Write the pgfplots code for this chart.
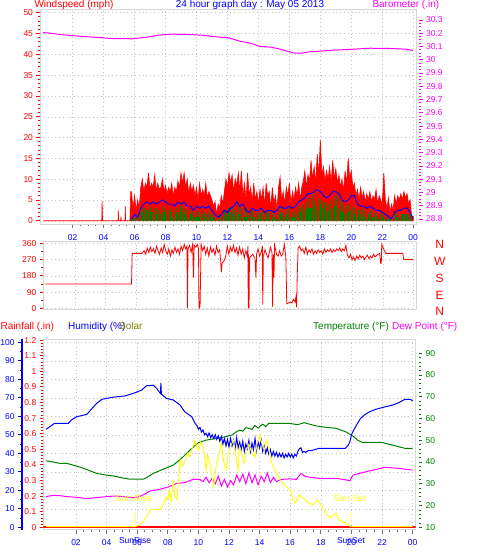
\documentclass[border=0pt]{standalone}
\usepackage{fontspec}
\setmainfont{Liberation Sans}
\usepackage{pgfplots}
\pgfplotsset{compat=1.18}
\definecolor{dkgreen}{RGB}{0,128,0}
\definecolor{olivec}{RGB}{128,128,0}
\definecolor{yel}{RGB}{255,255,0}
\definecolor{mag}{RGB}{255,0,255}
\definecolor{framec}{RGB}{215,215,215}
\definecolor{gridc}{RGB}{195,195,195}
\definecolor{tickc}{RGB}{110,110,110}
\pgfplotsset{
  base/.style={scale only axis, anchor=south west,
    /pgf/number format/assume math mode=true,
    tick label style={font=\fontsize{8.5}{10}\selectfont},
    axis line style={framec, line width=1pt},
    major grid style={gridc, dash pattern=on 0.8pt off 3pt},
    tick align=outside,
    major tick length=3.5pt, minor tick length=2pt,
  },
  hrs/.style={xtick={2,4,...,24}, xticklabels={02,04,06,08,10,12,14,16,18,20,22,00},
    minor x tick num=3, xtick pos=bottom,
    x tick style={tickc, line width=0.8pt},
    xticklabel style={blue, anchor=base, yshift=-12.3pt},
    major x tick style={tickc}, minor x tick style={tickc}},
}
\begin{document}
\begin{tikzpicture}[x=1pt,y=1pt]
\useasboundingbox (0,0) rectangle (478,555);
% ---------------- top panel: wind ----------------
\begin{axis}[base, hrs, at={(40pt,330.5pt)}, width=376pt, height=214.5pt,
  xmin=-0.11, xmax=24.18, ymin=-0.91, ymax=50.65,
  ytick pos=left, ytick={0,5,...,50}, minor y tick num=4,
  y tick style={red, line width=0.8pt}, yticklabel style={red},
  xmajorgrids, ymajorgrids]
\addplot[draw=red, fill=red, line width=0.6pt] coordinates {
(0.1,0)(3.88,0)(3.9,4.7)(3.93,0.5)(3.96,0)(4.93,0)(4.95,2.5)(4.97,0)(5.1,0)(5.12,1)(5.14,0)(5.38,0)(5.4,3.5)(5.42,0)(5.7,0)
(5.75,7)(5.8,7)(5.9,3)(6.0,6)(6.1,2.5)(6.2,5)(6.3,3)(6.4,8)(6.5,10)(6.6,7)(6.7,9)(6.8,8)(6.9,11.5)
(7.0,7.5)(7.1,9)(7.2,8)(7.3,11)(7.4,7)(7.5,9)(7.6,7.5)(7.7,8)(7.8,10)(7.9,7)
(8.0,8.5)(8.1,6.5)(8.2,8)(8.3,7)(8.4,9)(8.5,6)(8.6,8)(8.7,7)(8.8,9.5)(8.9,8)
(9.0,11.5)(9.1,9)(9.2,11.5)(9.3,8)(9.4,10)(9.5,6.5)(9.6,9)(9.7,7)(9.8,8.5)(9.9,6)
(10.0,8)(10.1,5)(10.2,9)(10.3,6)(10.4,7.5)(10.5,6)(10.6,9)(10.7,5.5)(10.8,7)(10.9,6)
(11.0,5)(11.1,3.5)(11.2,4.5)(11.3,1.5)(11.4,4)(11.5,3)(11.6,6)(11.7,4)(11.8,7)(11.9,10)
(12.0,8)(12.1,11.5)(12.2,9)(12.3,11)(12.4,7)(12.5,10)(12.6,8.5)(12.7,11.5)(12.8,7)(12.9,12)
(13.0,6)(13.1,9)(13.2,5)(13.3,11.5)(13.4,6)(13.5,8)(13.6,4.5)(13.7,9)(13.8,5)(13.9,7)
(14.0,4)(14.1,7.5)(14.2,5)(14.3,8)(14.4,3.5)(14.5,9)(14.6,6)(14.7,7)(14.8,3)(14.9,8)
(15.0,4)(15.1,6)(15.2,2.5)(15.3,8)(15.4,10.5)(15.5,5)(15.6,7)(15.7,4)(15.8,8)(15.9,6)
(16.0,9)(16.1,4)(16.2,7)(16.3,5)(16.4,8)(16.5,6)(16.6,9)(16.7,5)(16.8,8)(16.9,9.5)
(17.0,12)(17.1,8)(17.2,11)(17.3,9.5)(17.4,14.5)(17.5,10)(17.6,13)(17.7,9)(17.8,16)(17.9,11)
(18.0,19.5)(18.1,11)(18.2,13)(18.3,9.5)(18.4,12)(18.5,10)(18.6,13)(18.7,9)(18.8,14.5)(18.9,10)
(19.0,12.5)(19.1,9)(19.2,11)(19.3,8)(19.4,10)(19.5,7)(19.6,12)(19.7,9)(19.8,15)(19.9,10)
(20.0,12)(20.1,8)(20.2,9)(20.3,6)(20.4,7.5)(20.5,5)(20.6,8)(20.7,5.5)(20.8,7)(20.9,4.5)
(21.0,6.5)(21.1,5)(21.2,7)(21.3,4.5)(21.4,6)(21.5,5)(21.6,7.5)(21.7,4)(21.8,6)(21.9,5)
(22.0,4)(22.1,11.5)(22.2,5)(22.3,3)(22.4,5.5)(22.5,2)(22.6,4)(22.7,2.5)(22.8,6)(22.9,4)
(23.0,6)(23.1,5)(23.2,6.5)(23.3,5)(23.4,7)(23.5,5.5)(23.6,6.5)(23.7,4)(23.8,5)(23.9,1)(24.0,1)
} \closedcycle;
\addplot[ycomb, dkgreen, line width=1.1pt] coordinates {
(5.8,1)(5.9,0.5)(6.0,1)(6.1,0)(6.2,1.5)(6.3,1)(6.4,2.5)(6.5,3)(6.6,2)(6.7,3)(6.8,2.5)(6.9,3.5)
(7.0,2)(7.1,3)(7.2,2)(7.3,3)(7.4,1.5)(7.5,3)(7.6,2.5)(7.7,1.5)(7.8,3.5)(7.9,2)
(8.0,3)(8.1,1)(8.2,2.5)(8.3,2)(8.4,3)(8.5,1)(8.6,2.5)(8.7,1.5)(8.8,3)(8.9,2)
(9.0,3.5)(9.1,2)(9.2,3)(9.3,1.5)(9.4,2.5)(9.5,1)(9.6,2.5)(9.7,1.5)(9.8,2)(9.9,1)
(10.0,2.5)(10.1,1)(10.2,2)(10.3,1.5)(10.4,2.5)(10.5,1)(10.6,2)(10.7,1.5)(10.8,2.5)(10.9,1)
(11.0,1.5)(11.1,0.5)(11.2,1)(11.3,0)(11.4,0.5)(11.5,0.5)(11.6,1.5)(11.7,1)(11.8,2)(11.9,2.5)
(12.0,1.5)(12.1,3)(12.2,2)(12.3,3)(12.4,1.5)(12.5,2.5)(12.6,2)(12.7,3.5)(12.8,1.5)(12.9,3)
(13.0,1)(13.1,2.5)(13.2,1)(13.3,3)(13.4,1.5)(13.5,2)(13.6,1)(13.7,2.5)(13.8,1)(13.9,2)
(14.0,0.5)(14.1,2)(14.2,1)(14.3,2.5)(14.4,0.5)(14.5,2.5)(14.6,1.5)(14.7,2)(14.8,0.5)(14.9,2)
(15.0,1)(15.1,1.5)(15.2,0.5)(15.3,2)(15.4,3)(15.5,1.5)(15.6,2)(15.7,1)(15.8,2.5)(15.9,1.5)
(16.0,3)(16.1,1)(16.2,2)(16.3,1)(16.4,2.5)(16.5,1.5)(16.6,3.5)(16.7,2)(16.8,3)(16.9,4)
(17.0,2.5)(17.1,4.5)(17.2,3)(17.3,5.5)(17.4,3)(17.5,6.5)(17.6,3.5)(17.7,5)(17.8,2.5)(17.9,5.5)
(18.0,4)(18.1,5)(18.2,3)(18.3,4.5)(18.4,2)(18.5,4)(18.6,2.5)(18.7,5)(18.8,3)(18.9,6)
(19.0,3.5)(19.1,6.5)(19.2,3)(19.3,5)(19.4,2)(19.5,4)(19.6,1.5)(19.7,3.5)(19.8,2)(19.9,4)
(20.0,2.5)(20.1,3.5)(20.2,1.5)(20.3,3)(20.4,1)(20.5,2.5)(20.6,1.5)(20.7,3)(20.8,1)(20.9,2.5)
(21.0,1)(21.1,2)(21.2,1.5)(21.3,2.5)(21.4,1)(21.5,2)(21.6,1)(21.7,1.5)(21.8,0.5)(21.9,1.5)
(22.0,1)(22.1,2)(22.2,0.5)(22.3,1)(22.4,0.5)(22.5,0.5)(22.6,0)(22.7,0.5)(22.8,1.5)(22.9,1)
(23.0,1.5)(23.1,1)(23.2,1.5)(23.3,1.5)(23.4,1.5)(23.5,1.5)(23.6,1.5)(23.7,1)(23.8,1.5)(23.9,0.5)
};
\addplot[blue, line width=1pt] coordinates {
(5.8,0.3)(6.0,1.5)(6.2,0.8)(6.4,3)(6.6,4)(6.8,4.5)(7.0,4)(7.2,4.5)(7.4,4)(7.6,4.5)(7.8,5)
(8.0,4.5)(8.2,4)(8.4,4)(8.6,3.5)(8.8,4.5)(9.0,4)(9.2,4.5)(9.4,3.5)(9.6,3.5)(9.8,2.5)
(10.0,3.5)(10.2,3)(10.4,3.5)(10.6,3)(10.8,3.5)(11.0,2.5)(11.2,1.5)(11.4,0.8)(11.6,1.5)(11.8,2.5)
(12.0,2)(12.2,3)(12.4,3.5)(12.6,4.5)(12.8,3.5)(13.0,4)(13.2,2.5)(13.4,2)(13.6,3)(13.8,2.5)
(14.0,2.5)(14.2,3)(14.4,2)(14.6,2.5)(14.8,2.5)(15.0,2)(15.2,2.5)(15.4,3.5)(15.6,3)(15.8,3)
(16.0,3.5)(16.2,3)(16.4,3.5)(16.6,4.5)(16.8,5)(17.0,5.5)(17.2,6.5)(17.4,6.5)(17.6,7)(17.8,7.5)
(18.0,7)(18.2,6)(18.4,5.5)(18.6,6)(18.8,7)(19.0,7)(19.2,6.5)(19.4,5)(19.6,4.5)(19.8,5)
(20.0,6)(20.2,6)(20.4,4)(20.6,3.5)(20.8,3.5)(21.0,3)(21.2,3.5)(21.4,3)(21.6,2.5)(21.8,2.5)
(22.0,2)(22.2,1.5)(22.4,1)(22.6,0.5)(22.8,2)(23.0,2.5)(23.2,2.5)(23.4,3)(23.6,3)(23.8,2)(24.0,0.5)
};
\end{axis}
\begin{axis}[base, at={(40pt,330.5pt)}, width=376pt, height=214.5pt,
  xmin=-0.11, xmax=24.18, ymin=28.7586, ymax=30.375,
  hide x axis, axis y line*=right, y axis line style={draw=none},
  ytick={28.8,28.9,...,30.31}, minor y tick num=3,
  y tick style={mag, line width=0.8pt, xshift=3pt}, yticklabel style={mag, xshift=3pt}]
\addplot[mag, line width=1pt] coordinates {
(0.08,30.205)(0.6,30.2)(1.2,30.19)(1.7,30.185)(2.7,30.175)(3.8,30.167)(4.5,30.16)(5.9,30.158)
(6.8,30.17)(7.5,30.185)(8.4,30.193)(9.5,30.19)(10.4,30.185)(11.1,30.175)(12.1,30.165)(12.8,30.14)
(13.5,30.125)(14.1,30.1)(14.8,30.095)(15.4,30.08)(16.0,30.06)(16.3,30.05)(16.8,30.05)(17.3,30.06)
(18.0,30.065)(18.8,30.072)(19.9,30.078)(21.2,30.087)(22.5,30.085)(23.5,30.08)(23.98,30.07)
};
\end{axis}
% ---------------- wind direction ----------------
\begin{axis}[base, at={(43.3pt,245pt)}, width=373.4pt, height=68pt,
  xmin=-0.05, xmax=24.2, ymin=-9.4, ymax=368.3,
  xtick={2,4,...,24}, xticklabels={}, x tick style={draw=none},
  ytick={0,90,...,360}, minor y tick num=1, ytick pos=left,
  y tick style={red, line width=0.8pt}, yticklabel style={red},
  xmajorgrids, ymajorgrids]
\addplot[red, line width=0.8pt] coordinates {
(0.1,135)(5.68,135)(5.72,305)(6.35,305)
(6.5,320)(6.6,300)(6.7,335)(6.8,310)(6.9,340)(7.0,315)(7.1,330)(7.2,305)(7.3,345)(7.4,320)(7.5,300)
(7.6,335)(7.7,310)(7.8,355)(7.9,320)(8.0,300)(8.1,330)(8.2,290)(8.3,325)(8.4,305)(8.5,340)(8.6,310)
(8.7,330)(8.8,300)(8.9,345)(9.0,320)(9.1,355)(9.2,330)(9.28,345)(9.31,0)(9.35,330)(9.45,350)(9.55,310)
(9.65,355)(9.7,170)(9.75,350)(9.85,340)(9.95,355)(10.03,330)(10.06,0)(10.13,10)(10.2,355)(10.3,320)
(10.4,345)(10.5,300)(10.6,335)(10.7,290)(10.8,340)(10.9,310)(11.0,330)(11.1,295)(11.2,345)(11.3,310)
(11.4,325)(11.47,260)(11.51,200)(11.56,250)(11.7,265)(11.8,290)(11.9,345)(12.0,300)(12.1,340)
(12.2,315)(12.3,350)(12.4,310)(12.5,335)(12.6,295)(12.7,340)(12.8,300)(12.9,330)(13.0,280)(13.1,320)
(13.2,290)(13.24,345)(13.26,0)(13.28,300)(13.31,0)(13.34,280)(13.45,290)(13.55,300)(13.7,275)
(13.76,170)(13.8,300)(13.9,330)(14.0,290)(14.1,310)(14.18,345)(14.2,20)(14.24,290)(14.35,325)
(14.45,300)(14.55,280)(14.7,340)(14.8,310)(14.84,10)(14.88,300)(14.93,170)(14.97,350)(15.1,300)
(15.2,290)(15.3,320)(15.4,290)(15.5,300)(15.6,355)(15.7,285)(15.73,170)(15.76,25)(15.9,30)(16.0,35)
(16.1,30)(16.2,50)(16.3,35)(16.35,60)(16.4,5)(16.44,180)(16.5,335)(16.6,345)(16.7,320)(16.8,330)
(16.9,305)(17.0,340)(17.1,300)(17.2,325)(17.3,310)(17.4,330)(17.5,300)(17.6,320)(17.7,305)(17.8,325)
(17.9,310)(18.0,320)(18.1,300)(18.2,330)(18.3,310)(18.4,325)(18.5,315)(18.6,330)(18.7,310)(18.8,325)
(18.9,315)(19.0,330)(19.1,320)(19.2,335)(19.3,315)(19.4,330)(19.5,320)(19.6,350)(19.7,295)(19.8,280)
(19.9,300)(20.0,270)(20.1,285)(20.2,265)(20.3,290)(20.4,275)(20.5,295)(20.6,280)(20.7,290)(20.8,270)
(20.9,285)(21.0,295)(21.1,275)(21.2,290)(21.3,280)(21.4,300)(21.5,285)(21.6,295)(21.7,300)(21.8,305)
(21.85,250)(21.9,250)(21.93,355)(22.0,340)(22.1,320)(22.2,305)(23.3,305)(23.35,272)(24.0,270)
};
\end{axis}
\node[red, font=\fontsize{12}{14}\selectfont] at (439.7,310.5) {N};
\node[red, font=\fontsize{12}{14}\selectfont] at (439.7,293.5) {W};
\node[red, font=\fontsize{12}{14}\selectfont] at (439.7,277) {S};
\node[red, font=\fontsize{12}{14}\selectfont] at (439.7,260) {E};
\node[red, font=\fontsize{12}{14}\selectfont] at (439.7,244) {N};
% ---------------- bottom panel ----------------
\begin{axis}[base, hrs, at={(43.3pt,25pt)}, width=372.4pt, height=190.7pt,
  xmin=-0.137, xmax=24.2, ymin=-1.46, ymax=101.62,
  ytick={0,10,...,100}, yticklabels={}, y tick style={draw=none},
  extra x ticks={5.86,19.97}, extra x tick labels={SunRise,SunSet},
  extra x tick style={grid=none, x tick style={draw=none}, xticklabel style={yshift=2pt}},
  xmajorgrids, ymajorgrids]
\addplot[draw=none] coordinates {(0,0)(24,0)};
\end{axis}
\begin{axis}[base, at={(43.3pt,25pt)}, width=372.4pt, height=190.7pt,
  xmin=-0.137, xmax=24.2, ymin=8.76, ymax=96.44,
  hide x axis, axis y line*=right, y axis line style={draw=none},
  ytick={10,20,...,90}, minor y tick num=4,
  y tick style={dkgreen, line width=0.8pt, xshift=3pt}, yticklabel style={dkgreen, xshift=3pt}]
\addplot[mag, line width=1pt] coordinates {
(0.04,24.1)(0.5,24.7)(1.0,24.5)(1.4,24.1)(2.0,23.8)(2.7,23.2)(3.1,23.5)(3.57,23.8)(4.1,24.2)(4.66,24.4)
(5.2,24)(5.75,23.6)(6.1,24)(6.4,24.9)(6.85,26.7)(7.5,27.5)(8.1,28.7)(8.58,30.2)(9.1,30.5)(9.67,32.1)(10.1,32)
(10.3,31)(10.5,33)(10.7,30.5)(10.9,32.5)(11.1,30)(11.3,33.5)(11.5,29)(11.7,32)(11.9,28.5)(12.1,31.5)
(12.3,29.5)(12.5,34)(12.7,31)(12.9,34.5)(13.1,30)(13.3,35)(13.5,30.5)(13.7,34)(13.9,29.5)(14.1,33.5)
(14.3,31)(14.5,35)(14.7,30.5)(14.9,33)(15.1,31)(15.4,32)(16.0,32.3)(16.4,32)(16.7,34.8)(17.0,33.3)
(17.9,32.5)(19.0,32.5)(19.5,32)(19.9,31.4)(20.1,34)(20.7,35.1)(21.4,36.3)(22.2,37.6)(23.1,37.1)(24.0,36.3)
};
\addplot[dkgreen, line width=1pt] coordinates {
(0.04,40.6)(0.5,40)(0.95,39.4)(1.4,39.4)(1.8,38.6)(2.3,37.6)(2.8,36.3)(3.35,34.8)(3.9,34.1)(4.44,33.6)
(5.2,32.5)(5.53,32.1)(6.4,32.1)(6.7,33.2)(7.05,34.8)(7.7,36.7)(8.36,38.6)(8.9,41.7)(9.45,45.5)(10.0,48.9)
(10.5,50.1)(11.2,50.9)(11.8,51.7)(12.2,52.5)(12.5,54)(12.7,54.7)(12.9,54.2)(13.1,55.8)(13.3,55.5)(13.5,55)
(13.7,56.8)(13.9,55.6)(14.0,56.3)(14.2,57.4)(14.4,56.3)(14.6,57.8)(15.3,57.8)(15.9,57.8)(16.5,57.2)
(16.9,58.1)(17.7,56.6)(18.3,56)(19.0,55.5)(19.6,54)(20.15,51.7)(20.4,50.1)(20.7,49.1)(22.0,49)
(22.9,47.4)(23.5,46.3)(24.0,46.3)
};
\end{axis}
\begin{axis}[base, at={(43.3pt,25pt)}, width=372.4pt, height=190.7pt,
  xmin=-0.137, xmax=24.2, ymin=-1.46, ymax=101.62, hide x axis, hide y axis]
\addplot[blue, line width=1pt] coordinates {
(0.04,53)(0.3,54.4)(0.6,56.2)(1.5,56.2)(1.7,58)(2.05,59.8)(2.7,61)(3.0,63.8)(3.35,67)(3.7,69.2)
(4.4,70.3)(5.2,71)(5.75,72.4)(6.3,74.2)(6.6,76.5)(7.05,76.8)(7.27,75.1)(7.45,73)(7.52,72.4)(7.55,78)
(7.58,72)(7.9,69.7)(8.36,68.8)(8.8,66.1)(9.1,62.5)(9.56,59.8)(9.78,56.2)(9.9,55)(10.0,53)(10.1,54)
(10.2,51.5)(10.3,52.6)(10.4,50)(10.5,50.8)(10.6,49)(10.7,51)(10.8,48.5)(10.9,50)(11.0,48)(11.1,50)
(11.2,47.5)(11.3,49.5)(11.4,46.5)(11.5,49)(11.6,45)(11.7,48)(11.8,44)(11.9,47.5)(12.0,43.5)(12.1,48)
(12.2,44)(12.3,47)(12.4,42.5)(12.5,48.5)(12.6,43)(12.7,46)(12.8,42)(12.9,46.5)(13.0,41)(13.1,45)
(13.2,42.5)(13.3,47)(13.4,41)(13.5,45.5)(13.6,42)(13.7,48)(13.8,41.5)(13.9,46)(14.0,43)(14.1,47)
(14.2,41)(14.3,44)(14.4,40)(14.5,43)(14.6,39.5)(14.7,42)(14.8,38.5)(14.9,41)(15.0,38.5)(15.1,40.5)
(15.2,38)(15.3,40)(15.4,38)(15.5,40)(15.6,37.5)(15.7,39.5)(15.8,38)(15.9,40)(16.0,38)(16.1,39.5)
(16.2,37.5)(16.3,39.5)(16.4,38.5)(16.5,41)(16.6,42.5)(16.7,43)(16.8,40.5)(16.9,41)(17.0,40.5)
(17.2,41.5)(17.4,41.5)(17.6,42)(17.9,42.7)(18.5,42.7)(19.0,42.7)(19.6,42.7)(19.8,44.5)(19.9,46.3)
(20.0,50)(20.15,52.6)(20.4,56.2)(20.6,58.9)(20.85,60.7)(21.2,62.5)(21.6,63.8)(22.1,64.9)(22.7,66.1)
(23.1,67.4)(23.5,69.2)(23.85,69.2)(24.0,68.3)
};
\end{axis}
\begin{axis}[base, at={(43.3pt,25pt)}, width=372.4pt, height=190.7pt,
  xmin=-0.137, xmax=24.2, ymin=-0.0173, ymax=1.205,
  hide x axis, axis y line*=left, y axis line style={draw=none},
  ytick={0,0.1,...,1.21}, minor y tick num=4,
  y tick style={red, line width=0.8pt}, yticklabel style={red}]
\addplot[red, line width=2.2pt] coordinates {(-0.137,0)(24.2,0)};
\end{axis}
\begin{axis}[base, at={(43.3pt,25pt)}, width=372.4pt, height=190.7pt,
  xmin=-0.137, xmax=24.2, ymin=-14.6, ymax=1016.2, hide x axis, hide y axis]
\addplot[yel, line width=0.9pt] coordinates {
(0.04,4)(5.86,4)(6.1,10)(6.4,30)(6.85,94)(7.0,100)(7.3,94)(7.5,100)(7.7,120)(7.9,165)(8.0,150)(8.1,200)
(8.2,140)(8.36,256)(8.45,170)(8.6,148)(8.7,250)(8.8,364)(8.95,330)(9.1,350)(9.3,400)(9.45,380)(9.6,430)
(9.78,470)(9.9,430)(10.0,418)(10.15,460)(10.3,436)(10.4,380)(10.5,310)(10.6,390)(10.7,360)(10.85,300)
(11.0,220)(11.15,330)(11.3,380)(11.5,454)(11.65,360)(11.8,310)(11.95,400)(12.1,440)(12.3,470)(12.45,380)
(12.6,310)(12.7,436)(12.85,390)(13.0,346)(13.15,420)(13.3,450)(13.5,400)(13.7,380)(13.85,460)(14.0,500)
(14.15,450)(14.3,418)(14.45,470)(14.55,450)(14.7,380)(14.8,346)(15.0,310)(15.1,292)(15.3,260)(15.5,238)
(15.8,215)(16.0,200)(16.15,160)(16.3,130)(16.45,150)(16.6,175)(16.8,160)(17.0,148)(17.25,130)(17.5,120)
(17.65,135)(17.8,148)(18.0,120)(18.2,94)(18.4,70)(18.6,52)(18.8,65)(19.0,76)(19.1,55)(19.2,40)(19.5,28)
(19.7,18)(19.9,5)(19.97,4)(24.0,4)
};
\addplot[yel, line width=0.6pt, dash pattern=on 1pt off 1pt] coordinates {(5.86,0)(5.86,80)};
\addplot[yel, line width=0.6pt, dash pattern=on 1pt off 1pt] coordinates {(19.97,0)(19.97,80)};
\node[yel, font=\fontsize{9}{10}\selectfont] at (axis cs:5.79,158) {Sun Rise};
\node[yel, font=\fontsize{9}{10}\selectfont] at (axis cs:19.9,158) {Sun Set};
\end{axis}
\begin{axis}[base, at={(21.7pt,25pt)}, width=1pt, height=190.7pt,
  xmin=0, xmax=1, ymin=-1.46, ymax=101.62,
  hide x axis, axis y line*=left, y axis line style={blue, line width=2pt},
  ytick={0,10,...,100}, minor y tick num=1,
  y tick style={blue, line width=0.8pt}, yticklabel style={blue}]
\addplot[draw=none] coordinates {(0,0)(1,0)};
\end{axis}
% ---------------- headers ----------------
\node[anchor=base west, red, font=\fontsize{10}{12}\selectfont, inner sep=0] at (34.3,547.5) {Windspeed (mph)};
\node[anchor=base, blue, font=\fontsize{10}{12}\selectfont, inner sep=0] at (250,547.5) {24 hour graph day : May 05 2013};
\node[anchor=base west, mag, font=\fontsize{10}{12}\selectfont, inner sep=0] at (372.3,547.5) {Barometer (.in)};
\node[anchor=base west, red, font=\fontsize{10}{12}\selectfont, inner sep=0] at (0.5,225.5) {Rainfall (.in)};
\node[anchor=base west, blue, font=\fontsize{10}{12}\selectfont, inner sep=0] at (68,225.5) {Humidity (\%)};
\node[anchor=base west, olivec, font=\fontsize{10}{12}\selectfont, inner sep=0] at (119,225.5) {Solar};
\node[anchor=base west, dkgreen, font=\fontsize{10}{12}\selectfont, inner sep=0] at (313,225.5) {Temperature (°F)};
\node[anchor=base west, mag, font=\fontsize{10}{12}\selectfont, inner sep=0] at (392,225.5) {Dew Point (°F)};
\end{tikzpicture}
\end{document}
